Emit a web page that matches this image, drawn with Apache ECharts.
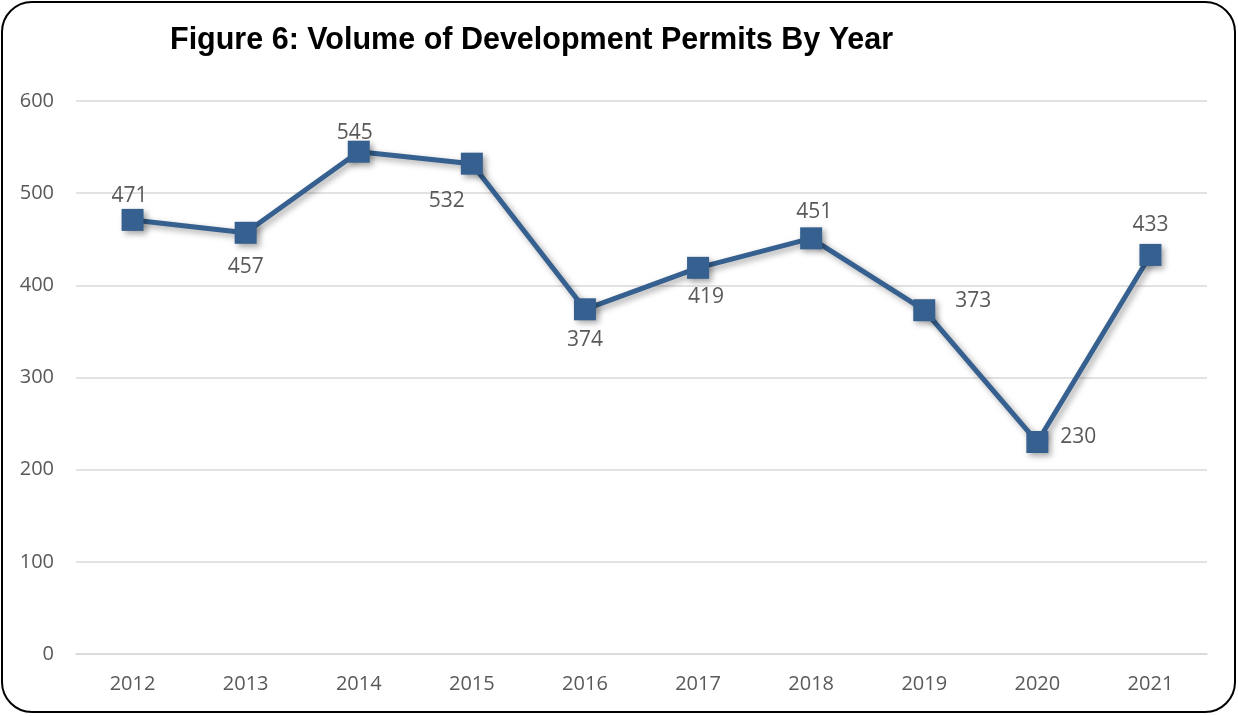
<!DOCTYPE html>
<html><head><meta charset="utf-8">
<script src="https://cdn.jsdelivr.net/npm/echarts@6/dist/echarts.min.js"></script>
<style>html,body{margin:0;padding:0;background:#fff}#c{width:1238px;height:716px}</style>
</head><body><div id="c"></div>
<script>
const years = ['2012','2013','2014','2015','2016','2017','2018','2019','2020','2021'];
const permits = [471,457,545,532,374,419,451,373,230,433];
const labelPos = ['top','bottom','top','bottom','bottom','bottom','top','right','right','top'];
const yTicks = [0,100,200,300,400,500,600];

// label nudges (layout only)
const labelNudge = [[-3,4],[0,7],[-4,9],[-25,10],[0,3],[8,2],[3,1],[14,-9],[6,-5],[0,-2]];

const chart = echarts.init(document.getElementById('c'));
chart.setOption({
  animation:false,
  backgroundColor:'#fff',
  graphic:[{type:'rect',shape:{x:2,y:2,width:1233,height:710,r:30},style:{fill:'none',stroke:'#000',lineWidth:2},z:-1}],
  title:{text:'Figure 6: Volume of Development Permits By Year',left:165,top:20,
    textStyle:{fontFamily:"'Liberation Sans Narrow','Liberation Sans',Arial,sans-serif",fontWeight:'bold',fontSize:30.5,color:'#000'}},
  grid:{left:76,right:31,top:101,bottom:62,containLabel:false},
  xAxis:{type:'category',data:years,boundaryGap:true,
    axisLine:{show:true,lineStyle:{color:'#d9d9d9',width:1.5}},axisTick:{show:false},
    axisLabel:{color:'#595959',fontSize:20,fontFamily:"'Open Sans',sans-serif",margin:20}},
  yAxis:{type:'value',min:0,max:600,interval:100,
    axisLine:{show:false},axisTick:{show:false},
    splitLine:{lineStyle:{color:'#d9d9d9',width:1.5}},
    axisLabel:{color:'#595959',fontSize:20,fontFamily:"'Open Sans',sans-serif",margin:22,align:'right',
      formatter:v=>yTicks.includes(v)?String(v):''}},
  series:[{type:'line',
    data:permits.map((v,i)=>({value:v,label:{position:labelPos[i],offset:labelNudge[i]}})),
    symbol:'rect',symbolSize:22,
    lineStyle:{color:'#35608f',width:5,shadowColor:'rgba(0,0,0,0.35)',shadowBlur:6,shadowOffsetX:3,shadowOffsetY:3},
    itemStyle:{color:'#35608f',shadowColor:'rgba(0,0,0,0.35)',shadowBlur:6,shadowOffsetX:3,shadowOffsetY:3},
    label:{show:true,color:'#595959',fontSize:21,fontFamily:"'Open Sans',sans-serif",distance:6}
  }]
});
</script></body></html>
